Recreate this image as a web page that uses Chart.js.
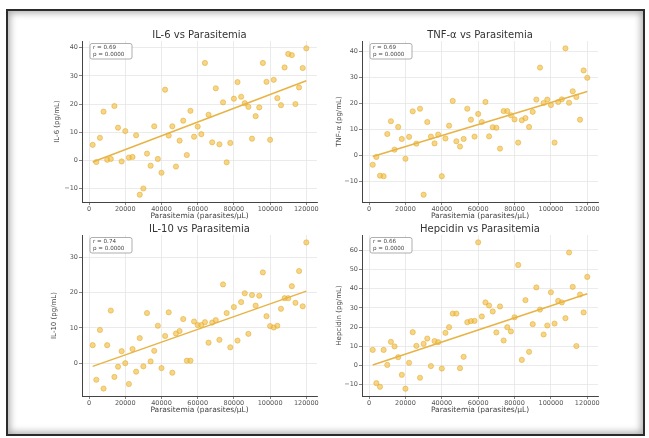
<!DOCTYPE html>
<html>
<head>
<meta charset="utf-8">
<script src="https://cdn.jsdelivr.net/npm/chart.js@4.4.1/dist/chart.umd.min.js"></script>
<style>
html,body{margin:0;padding:0;background:#fff;}
#page{position:relative;width:649px;height:438px;overflow:hidden;background:#fff;}
canvas{position:absolute;}
#frame{position:absolute;left:6px;top:9px;width:635px;height:423px;border:2px solid #2b2b2b;box-shadow:inset 0 0 7px 2px rgba(0,0,0,0.33);pointer-events:none;}
</style>
</head>
<body>
<div id="page">
<canvas id="c0"></canvas>
<canvas id="c1"></canvas>
<canvas id="c2"></canvas>
<canvas id="c3"></canvas>
<div id="frame"></div>
</div>
<script>
// ---- data ----
const parasitemia = [2000,4000,6000,8000,10000,12000,14000,16000,18000,20000,
  22000,24000,26000,28000,30000,32000,34000,36000,38000,40000,
  42000,44000,46000,48000,50000,52000,54000,56000,58000,60000,
  62000,64000,66000,68000,70000,72000,74000,76000,78000,80000,
  82000,84000,86000,88000,90000,92000,94000,96000,98000,100000,
  102000,104000,106000,108000,110000,112000,114000,116000,118000,120000];
const il6 = [5.5,-0.6,8,17.3,0.2,0.5,19.3,11.6,-0.4,10.4,
  1,1.2,8.9,-12.2,-10,2.4,-1.9,12.1,0.5,-4.4,
  25.1,8.8,12.1,-2.2,7,14.1,1.9,17.6,8.4,12,
  9.3,34.6,16.2,6.4,25.6,5.7,20.6,-0.7,6.2,21.9,
  27.8,22.6,20.3,19,7.7,15.7,18.8,34.6,27.9,7.3,
  28.6,22.1,19.6,33,37.8,37.4,20,25.9,32.8,39.8];
const tnf = [-3.5,-0.5,-7.7,-7.9,8.3,13.2,2.3,11,6.4,-1.2,
  7.2,17,4.6,18,-15,12.9,7.3,4.7,8.1,-7.9,
  6.6,11.5,21,5.5,3.5,6.4,18,13.8,7.3,16,
  12.9,20.6,7.4,10.9,10.7,2.7,17.1,17.1,15.5,13.9,
  5,13.6,14.4,11,16.8,21.5,33.8,20.2,21.5,19.4,
  5,20.6,21.6,41.2,20.3,24.7,22.5,13.8,32.7,29.9];
const il10 = [5.1,-4.7,9.4,-7.2,5.1,14.9,-3.9,-1,3.4,0,
  -5.9,4,-2.4,7.1,-0.9,14.2,0.5,3.5,10.6,-1.4,
  7.7,14.4,-2.7,8.4,9.1,12.5,0.7,0.7,11.8,10.8,
  10.8,11.6,5.8,11.5,12.2,6.6,22.3,14.2,4.5,15.9,
  6.4,17.3,19.8,8.3,19.3,16.3,19.1,25.7,13.3,10.5,
  10.1,10.6,15.4,18.4,18.4,21.8,17.1,26.1,16.1,34.2];
const hepcidin = [8.1,-9.2,-11.1,8.1,0.3,12.3,9.9,4.3,-4.9,-12.1,
  1.4,17.3,10.2,-6.4,11.3,14,-0.3,12.7,12.1,-1.6,
  17,19.9,27,27,-1.4,4.5,22.5,23.1,23.2,64.1,
  25.5,32.8,31.2,28.1,17.2,30.7,13,19.9,17.7,25.1,
  52.3,2.9,34,7.1,21.5,40.6,29.1,16.1,20.8,38.1,
  21.8,33.6,32.8,24.6,58.8,40.9,10.1,36.9,27.6,46.1];
// regression line end points (x at data range ends)
const fitX = [2000, 120000];
const il6Fit = [-0.6, 28.3];
const tnfFit = [-0.3, 24.6];
const il10Fit = [-0.9, 20.4];
const hepcidinFit = [0.2, 37.3];
const rValues = ['0.69','0.69','0.74','0.66'];
const pValues = ['0.0000','0.0000','0.0000','0.0000'];
const titles = ['IL-6 vs Parasitemia','TNF-α vs Parasitemia','IL-10 vs Parasitemia','Hepcidin vs Parasitemia'];
const yLabels = ['IL-6 (pg/mL)','TNF-α (pg/mL)','IL-10 (pg/mL)','Hepcidin (pg/mL)'];
const xLabel = 'Parasitemia (parasites/µL)';
const xTicks = [0,20000,40000,60000,80000,100000,120000];
const il6Ticks = [-10,0,10,20,30,40];
const tnfTicks = [-10,0,10,20,30,40];
const il10Ticks = [0,10,20,30];
const hepcidinTicks = [-10,0,10,20,30,40,50,60];

// ---- layout / style ----
const FONT = "'DejaVu Sans', sans-serif";
const PT_FILL = 'rgba(240,188,62,0.62)';
const PT_EDGE = 'rgba(226,168,40,0.75)';
const LINE_COL = '#e8b345';
const panels = [
  {id:'c0', y:il6, fit:il6Fit, yt:il6Ticks, ymin:-14.8, ymax:42.4, L:82, T:41, R:317, B:202, yoff:25},
  {id:'c1', y:tnf, fit:tnfFit, yt:tnfTicks, ymin:-17.8, ymax:44.0, L:362, T:41, R:598, B:202, yoff:27},
  {id:'c2', y:il10, fit:il10Fit, yt:il10Ticks, ymin:-9.3, ymax:36.3, L:82, T:235, R:317, B:396, yoff:22},
  {id:'c3', y:hepcidin, fit:hepcidinFit, yt:hepcidinTicks, ymin:-15.9, ymax:67.9, L:362, T:235, R:598, B:396, yoff:27}
];
const YW = 50, XH = 22, TH = 22, PADR = 10;
const fmt = v => (v < 0 ? '\u2212' + Math.abs(v) : String(v));

const statBox = {
  id: 'statBox',
  afterDatasetsDraw(chart, args, opts) {
    const {ctx, chartArea: a} = chart;
    const x = a.left + 8, y = a.top + 2.5, w = 42, h = 15.5, r = 2;
    ctx.save();
    ctx.beginPath();
    ctx.moveTo(x + r, y); ctx.lineTo(x + w - r, y); ctx.arcTo(x + w, y, x + w, y + r, r);
    ctx.lineTo(x + w, y + h - r); ctx.arcTo(x + w, y + h, x + w - r, y + h, r);
    ctx.lineTo(x + r, y + h); ctx.arcTo(x, y + h, x, y + h - r, r);
    ctx.lineTo(x, y + r); ctx.arcTo(x, y, x + r, y, r);
    ctx.closePath();
    ctx.fillStyle = 'rgba(255,255,255,0.85)';
    ctx.fill();
    ctx.strokeStyle = '#9a9a9a';
    ctx.lineWidth = 0.8;
    ctx.stroke();
    ctx.fillStyle = '#444';
    ctx.font = '5.6px ' + FONT;
    ctx.textBaseline = 'middle';
    ctx.textAlign = 'left';
    ctx.fillText('r = ' + opts.r, x + 3, y + 4.5);
    ctx.fillText('p = ' + opts.p, x + 3, y + 11);
    ctx.restore();
  }
};

panels.forEach((p, i) => {
  const cv = document.getElementById(p.id);
  const W = p.R - p.L + YW + PADR, H = p.B - p.T + TH + XH;
  cv.width = W; cv.height = H;
  cv.style.width = W + 'px'; cv.style.height = H + 'px';
  cv.style.left = (p.L - YW) + 'px'; cv.style.top = (p.T - TH) + 'px';
  const pts = parasitemia.map((x, k) => ({x: x, y: p.y[k]}));
  const line = fitX.map((x, k) => ({x: x, y: p.fit[k]}));
  new Chart(cv, {
    type: 'scatter',
    data: {
      datasets: [
        {type: 'line', data: line, borderColor: LINE_COL, borderWidth: 1.5, pointRadius: 0, fill: false, order: 0},
        {data: pts, backgroundColor: PT_FILL, borderColor: PT_EDGE, borderWidth: 0.7, pointRadius: 2.6, order: 1}
      ]
    },
    options: {
      responsive: false,
      animation: false,
      devicePixelRatio: 1,
      layout: {padding: {left: 0, top: 0, right: PADR, bottom: 0}},
      plugins: {
        legend: {display: false},
        tooltip: {enabled: false},
        title: {display: true, text: titles[i], fullSize: false, color: '#333',
          font: {family: FONT, size: 10, weight: 'normal', lineHeight: 1.2}, padding: {top: 10, bottom: 0}},
        statBox: {r: rValues[i], p: pValues[i]}
      },
      scales: {
        x: {
          type: 'linear', min: -3900, max: 125900,
          afterBuildTicks: s => { s.ticks = xTicks.map(v => ({value: v})); },
          afterFit: s => { s.height = XH; },
          grid: {color: '#e6e6e6', lineWidth: 0.8, tickLength: 3, tickColor: '#666'},
          border: {display: true, color: '#444', width: 1},
          ticks: {color: '#555', font: {family: FONT, size: 6.5}, padding: 0, maxRotation: 0, autoSkip: false, callback: v => fmt(v)},
          title: {display: true, text: xLabel, color: '#444', font: {family: FONT, size: 7.5}, padding: {top: 0, bottom: 3.5}}
        },
        y: {
          type: 'linear', min: p.ymin, max: p.ymax,
          afterBuildTicks: s => { s.ticks = p.yt.map(v => ({value: v})); },
          afterFit: s => { s.width = YW; },
          grid: {color: '#e6e6e6', lineWidth: 0.8, tickLength: 3, tickColor: '#666'},
          border: {display: true, color: '#444', width: 1},
          ticks: {color: '#555', font: {family: FONT, size: 6.5}, padding: 1, autoSkip: false, callback: v => fmt(v)},
          title: {display: true, text: yLabels[i], color: '#444', font: {family: FONT, size: 7}, padding: {top: p.yoff - 4.2, bottom: 0}}
        }
      }
    },
    plugins: [statBox]
  });
});
</script>
</body>
</html>
